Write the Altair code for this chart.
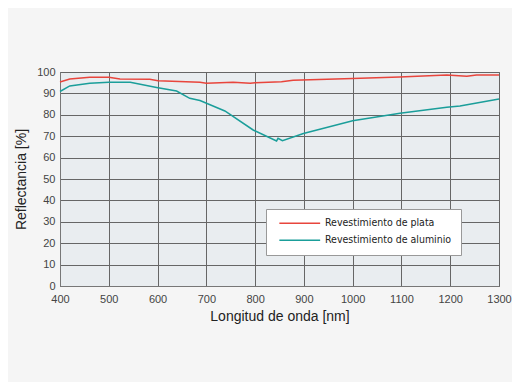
import altair as alt
import pandas as pd

silver_nm = [400, 420, 461, 500, 523, 584, 601, 687, 700, 755, 790, 800, 854, 878, 1000, 1096, 1193, 1234, 1254, 1300]
silver_val = [95.3, 96.7, 97.6, 97.5, 96.7, 96.6, 95.9, 95.2, 94.8, 95.2, 94.8, 95.0, 95.5, 96.1, 97.0, 97.7, 98.6, 98.0, 98.6, 98.6]

alu_nm = [400, 420, 461, 500, 544, 598, 639, 666, 687, 738, 796, 844, 847, 856, 899, 1000, 1097, 1193, 1220, 1300]
alu_val = [90.9, 93.5, 94.7, 95.2, 95.2, 92.8, 91.1, 87.7, 86.7, 81.8, 72.9, 67.8, 69.0, 67.9, 71.3, 77.2, 80.7, 83.5, 84.1, 87.4]

series_names = ["Revestimiento de plata", "Revestimiento de aluminio"]
series_colors = ["#e8453c", "#1a9e9a"]

df = pd.concat([
    pd.DataFrame({"nm": silver_nm, "val": silver_val, "serie": series_names[0]}),
    pd.DataFrame({"nm": alu_nm, "val": alu_val, "serie": series_names[1]}),
])

chart = alt.Chart(df).mark_line(strokeWidth=1.5, interpolate="linear").encode(
    x=alt.X("nm:Q", scale=alt.Scale(domain=[400, 1300], nice=False),
            axis=alt.Axis(values=list(range(400, 1301, 100)), format="d",
                          title="Longitud de onda [nm]")),
    y=alt.Y("val:Q", scale=alt.Scale(domain=[0, 100], nice=False),
            axis=alt.Axis(values=list(range(0, 101, 10)), format="d",
                          title="Reflectancia [%]")),
    color=alt.Color("serie:N", scale=alt.Scale(domain=series_names, range=series_colors),
                    legend=alt.Legend(title=None, orient="none", legendX=206, legendY=137,
                                      fillColor="white", strokeColor="#999999",
                                      padding=9, symbolType="M-5.1,0H5.1", symbolSize=64,
                                      symbolStrokeWidth=1.5, symbolOffset=19.5,
                                      labelOffset=20,
                                      labelFont="DejaVu Sans Condensed, Liberation Sans",
                                      labelFontSize=10.5,
                                      labelColor="#222222", rowPadding=6)),
).properties(
    width=439, height=214,
    background="#f5f5f5",
    padding={"left": 52, "top": 64, "right": 13, "bottom": 96},
    autosize=alt.AutoSizeParams(type="none"),
).configure_view(
    fill="#e9edf0", stroke="#777777", strokeWidth=1
).configure_axis(
    grid=True, gridColor="#666666", gridOpacity=1, gridWidth=1,
    domainColor="#777777", ticks=False, labelFlush=False,
    labelFont="Liberation Sans", labelFontSize=11, labelColor="#444444",
    titleFont="Liberation Sans", titleFontSize=14, titleFontWeight="normal", titleColor="#222222",
).configure_axisX(
    labelPadding=7, titlePadding=5
).configure_axisY(
    labelPadding=5, titlePadding=8
)

chart.save("out.html", embed_options={"renderer": "svg", "actions": False})
